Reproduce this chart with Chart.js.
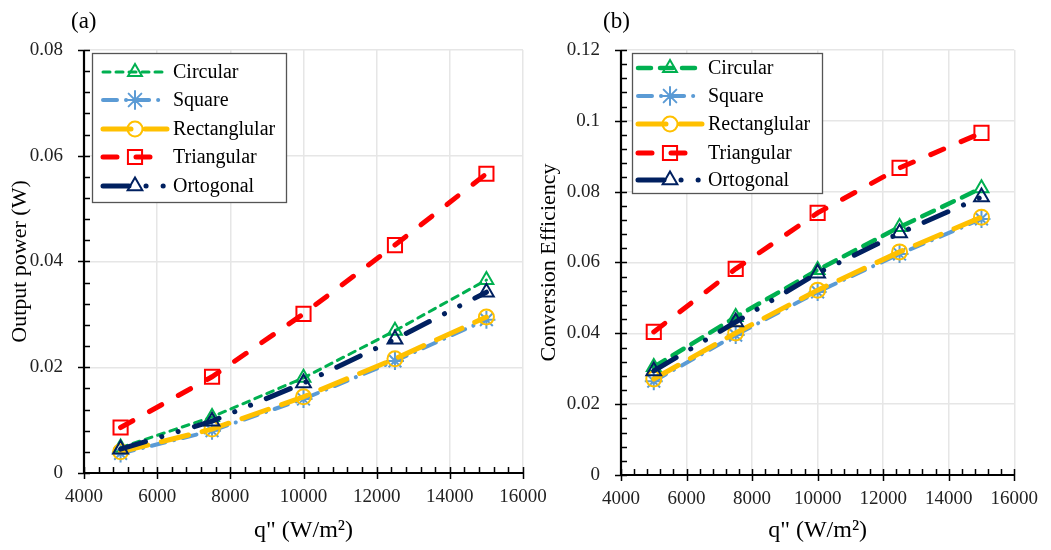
<!DOCTYPE html>
<html>
<head>
<meta charset="utf-8">
<script src="https://cdn.jsdelivr.net/npm/chart.js@4.4.1/dist/chart.umd.min.js"></script>
<style>
  body { margin: 0; background: #fff; }
  #wrap { position: relative; width: 1051px; height: 550px; overflow: hidden; }
  #wrap canvas { position: absolute; left: 0; top: 0; }
  .painel { position: absolute; top: 8px; font: 23px "Liberation Serif", "Times New Roman", serif; color: #000; }
</style>
</head>
<body>
<div id="wrap">
  <canvas id="graficoPotencia" width="1051" height="550"></canvas>
  <canvas id="graficoEficiencia" width="1051" height="550"></canvas>
  <div class="painel" style="left:71px">(a)</div>
  <div class="painel" style="left:603px">(b)</div>
</div>
<script>
// fluxo de calor (W/m2) e nomes das geometrias
const fluxo = [5000, 7500, 10000, 12500, 15000];
const nomes = ['Circular', 'Square', 'Rectanglular', 'Triangular', 'Ortogonal'];

// (a) potência de saída (W)
const potCircular   = [0.0048, 0.0106, 0.0180, 0.0269, 0.0365];
const potSquare     = [0.0037, 0.0080, 0.0140, 0.0212, 0.0290];
const potRetangular = [0.0040, 0.0083, 0.0144, 0.0216, 0.0295];
const potTriangular = [0.0086, 0.0182, 0.0301, 0.0431, 0.0566];
const potOrtogonal  = [0.0045, 0.0098, 0.0170, 0.0253, 0.0342];

// (b) eficiência de conversão
const efCircular   = [0.0305, 0.0446, 0.0579, 0.0700, 0.0810];
const efSquare     = [0.0265, 0.0395, 0.0517, 0.0624, 0.0723];
const efRetangular = [0.0271, 0.0401, 0.0522, 0.0630, 0.0728];
const efTriangular = [0.0404, 0.0582, 0.0740, 0.0867, 0.0966];
const efOrtogonal  = [0.0294, 0.0432, 0.0570, 0.0683, 0.0785];

// ticks
const xTicks = [4000, 6000, 8000, 10000, 12000, 14000, 16000];
const yTicksPot = [0, 0.02, 0.04, 0.06, 0.08];
const yRotulosPot = ['0', '0.02', '0.04', '0.06', '0.08'];
const yTicksEf = [0, 0.02, 0.04, 0.06, 0.08, 0.1, 0.12];
const yRotulosEf = ['0', '0.02', '0.04', '0.06', '0.08', '0.1', '0.12'];

const FONTE = '"Liberation Serif", "Times New Roman", serif';

// aparência de cada série: [cor, marcador, raio, ordem]
const aparencia = [
  ['#00B050', 'triangle', 8, 3],
  ['#5B9BD5', 'star', 9, 4],
  ['#FFC000', 'circle', 7.5, 2],
  ['#FF0000', 'rect', 10, 5],
  ['#002060', 'triangle', 8.5, 1]
];

function montarDatasets(series, tracos) {
  return series.map((valores, i) => {
    const [cor, marcador, raio, ordem] = aparencia[i];
    const [largura, dash] = tracos[i];
    return {
      label: nomes[i],
      data: fluxo.map((x, k) => ({ x, y: valores[k] })),
      borderColor: cor,
      borderWidth: largura,
      borderDash: dash,
      borderCapStyle: 'round',
      tension: 0,
      pointStyle: marcador,
      pointRadius: raio,
      pointBorderColor: cor,
      pointBackgroundColor: 'rgba(0,0,0,0)',
      pointBorderWidth: 2,
      order: ordem
    };
  });
}

// eixos pretos com ticks maiores cruzando o eixo e menores para dentro
function pluginEixos(menorX, menorY) {
  return {
    id: 'eixos',
    beforeDatasetsDraw(chart) {
      const { ctx, chartArea: a, scales: { x, y } } = chart;
      ctx.save();
      ctx.strokeStyle = '#000';
      ctx.lineWidth = 1.5;
      ctx.beginPath();
      for (let v = x.min; v <= x.max + 1e-9; v += menorX) {
        const px = Math.round(x.getPixelForValue(v)) + 0.5;
        const maior = xTicks.includes(Math.round(v));
        ctx.moveTo(px, a.bottom - 6);
        ctx.lineTo(px, a.bottom + (maior ? 6 : 0));
      }
      for (let v = y.min; v <= y.max + 1e-9; v += menorY) {
        const py = Math.round(y.getPixelForValue(v)) + 0.5;
        const maior = Math.abs(v / 0.02 - Math.round(v / 0.02)) < 1e-6;
        ctx.moveTo(a.left - (maior ? 6 : 0), py);
        ctx.lineTo(a.left + 6, py);
      }
      ctx.stroke();
      ctx.lineWidth = 2.2;
      ctx.beginPath();
      ctx.moveTo(a.left, a.top);
      ctx.lineTo(a.left, a.bottom);
      ctx.lineTo(a.right, a.bottom);
      ctx.stroke();
      ctx.restore();
    }
  };
}

// legenda em caixa dentro da área do gráfico
function pluginLegenda(caixa) {
  return {
    id: 'legendaCaixa',
    afterDatasetsDraw(chart) {
      const ctx = chart.ctx;
      ctx.save();
      ctx.fillStyle = '#fff';
      ctx.fillRect(caixa.x, caixa.y, caixa.w, caixa.h);
      ctx.strokeStyle = '#555';
      ctx.lineWidth = 1.3;
      ctx.strokeRect(caixa.x + 0.5, caixa.y + 0.5, caixa.w, caixa.h);
      chart.data.datasets.forEach((ds, i) => {
        const ly = caixa.linhas[i];
        ctx.strokeStyle = ds.borderColor;
        ctx.lineWidth = ds.borderWidth;
        ctx.lineCap = 'round';
        ctx.setLineDash(ds.borderDash);
        ctx.beginPath();
        ctx.moveTo(caixa.l0, ly);
        ctx.lineTo(caixa.l1, ly);
        ctx.stroke();
        ctx.setLineDash([]);
        ctx.lineWidth = ds.pointBorderWidth;
        ctx.fillStyle = 'rgba(0,0,0,0)';
        Chart.helpers.drawPoint(ctx, {
          pointStyle: ds.pointStyle, radius: ds.pointRadius,
          borderWidth: ds.pointBorderWidth, rotation: 0
        }, (caixa.l0 + caixa.l1) / 2, ly);
        ctx.fillStyle = '#000';
        ctx.font = '20px ' + FONTE;
        ctx.textBaseline = 'middle';
        ctx.fillText(ds.label, caixa.tx, ly + 1);
      });
      ctx.restore();
    }
  };
}

function desenharGrafico(id, cfg) {
  const ctx = document.getElementById(id).getContext('2d');
  new Chart(ctx, {
    type: 'line',
    data: { datasets: montarDatasets(cfg.series, cfg.tracos) },
    options: {
      responsive: false,
      animation: false,
      devicePixelRatio: 1,
      layout: { padding: { left: cfg.esquerda, right: cfg.direita, top: 50, bottom: 0 } },
      plugins: { legend: { display: false }, tooltip: { enabled: false } },
      scales: {
        x: {
          type: 'linear', min: 4000, max: 16000,
          afterBuildTicks: s => { s.ticks = xTicks.map(v => ({ value: v })); },
          afterFit: s => { s.height = cfg.alturaX; },
          ticks: { callback: v => String(v), font: { family: FONTE, size: 19 }, color: '#222', padding: 13, maxRotation: 0, autoSkip: false },
          grid: { color: '#e6e6e6', lineWidth: 1.5, drawTicks: false },
          border: { display: false },
          title: { display: true, text: 'q" (W/m\u00B2)', color: '#000', font: { family: FONTE, size: 24 }, padding: { top: 0, bottom: 5 } }
        },
        y: {
          min: 0, max: cfg.yMax,
          afterBuildTicks: s => { s.ticks = cfg.yTicks.map(v => ({ value: v })); },
          afterFit: s => { s.width = cfg.larguraY; },
          ticks: { callback: (v, i) => cfg.yRotulos[i], font: { family: FONTE, size: 19 }, color: '#222', padding: 21 },
          grid: { color: '#e6e6e6', lineWidth: 1.5, drawTicks: false },
          border: { display: false },
          title: { display: true, text: cfg.tituloY, color: '#000', font: { family: FONTE, size: 22 }, padding: { top: cfg.padTituloY, bottom: 0 } }
        }
      }
    },
    plugins: [pluginEixos(400, 0.004), pluginLegenda(cfg.legenda)]
  });
}

desenharGrafico('graficoPotencia', {
  series: [potCircular, potSquare, potRetangular, potTriangular, potOrtogonal],
  tracos: [[3, [7, 6]], [4, [14, 9, 0.1, 9]], [5, [28, 14]], [5, [14, 19]], [5, [26, 17, 0.1, 17, 0.1, 17]]],
  esquerda: 0, larguraY: 84, direita: 1051 - 523, alturaX: 550 - 473,
  yMax: 0.08, yTicks: yTicksPot, yRotulos: yRotulosPot,
  tituloY: 'Output power (W)', padTituloY: 7,
  legenda: { x: 92, y: 53, w: 194, h: 149, l0: 103, l1: 167, tx: 173, linhas: [72, 100, 129, 157, 186] }
});

desenharGrafico('graficoEficiencia', {
  series: [efCircular, efSquare, efRetangular, efTriangular, efOrtogonal],
  tracos: [[4.5, [13, 9]], [4, [14, 9, 0.1, 9]], [5, [28, 14]], [5, [14, 19]], [5, [26, 17, 0.1, 17, 0.1, 17]]],
  esquerda: 525, larguraY: 621 - 525, direita: 1051 - 1019, alturaX: 550 - 475,
  yMax: 0.12, yTicks: yTicksEf, yRotulos: yRotulosEf,
  tituloY: 'Conversion Efficiency', padTituloY: 11,
  legenda: { x: 632, y: 53, w: 190, h: 140, l0: 638, l1: 702, tx: 708, linhas: [68, 96, 124, 153, 180] }
});
</script>
</body>
</html>
